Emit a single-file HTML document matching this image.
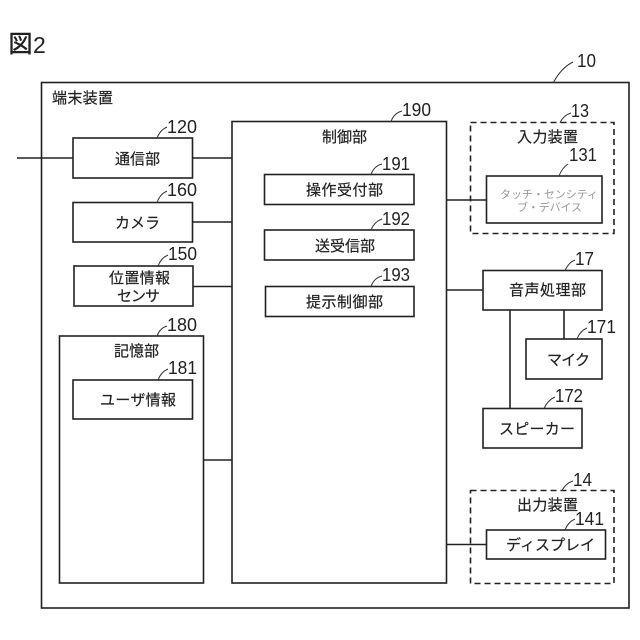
<!DOCTYPE html>
<html lang="ja">
<head>
<meta charset="utf-8">
<style>
html,body{margin:0;padding:0;background:#fff;width:640px;height:640px;overflow:hidden}
svg{display:block}
text{font-family:"Liberation Sans","Noto Sans CJK JP",sans-serif;fill:#222}
.j{font-size:15px;font-family:"Noto Sans CJK JP","Liberation Sans",sans-serif;stroke:#222;stroke-width:.2}
.n{font-size:18px}
.b{fill:none;stroke:#222;stroke-width:1.6}
.d{fill:none;stroke:#222;stroke-width:1.6;stroke-dasharray:6 4}
.l{fill:none;stroke:#222;stroke-width:1.6}
.c{fill:none;stroke:#333;stroke-width:1}
</style>
</head>
<body>
<svg width="640" height="640" viewBox="0 0 640 640" xmlns="http://www.w3.org/2000/svg">
<rect width="640" height="640" fill="#fff"/>
<!-- title -->
<text x="8.5" y="52" class="j" style="font-size:24px;stroke-width:.5">図</text>
<text x="33" y="53" style="font-size:23px">2</text>

<!-- boxes -->
<rect class="b" x="41.5" y="82.5" width="587.5" height="525.5"/>
<rect class="b" x="73" y="138" width="119.5" height="40"/>
<rect class="b" x="73" y="202.5" width="119.5" height="39.5"/>
<rect class="b" x="74" y="266" width="119" height="40"/>
<rect class="b" x="232" y="121.5" width="214.5" height="461.5"/>
<rect class="b" x="59.5" y="336" width="144" height="247"/>
<rect class="b" x="73" y="380" width="119.5" height="39"/>
<rect class="b" x="264.5" y="174.5" width="149.5" height="30"/>
<rect class="b" x="264.5" y="230" width="149.5" height="30"/>
<rect class="b" x="265.5" y="286.5" width="148.5" height="30"/>
<rect class="d" x="470.5" y="122.5" width="143.5" height="111"/>
<rect class="b" x="486.5" y="176" width="115.5" height="47"/>
<rect class="b" x="483" y="270.5" width="119" height="39.5"/>
<rect class="b" x="526" y="339" width="76" height="40"/>
<rect class="b" x="483" y="408.5" width="99" height="39.5"/>
<rect class="d" x="470.5" y="490.5" width="143.5" height="93"/>
<rect class="b" x="486.5" y="530" width="119" height="29"/>

<!-- connectors -->
<path class="l" d="M17 158H73M192.5 158H232M192.5 222H232M193 286.5H232M203.5 460H232M446.5 200H486.5M446.5 290H483M510 310V408.5M564 310V339M446.5 544.5H486.5"/>

<!-- leaders -->
<path class="c" d="M157 138Q160 130 167 127M157 202.5Q160 194 167 191M158 266Q161 258 168 255M157 336Q160 328 167 326M158 380Q161 372 168 369M391 121.5Q394 113 402 111M371 174.5Q374 166 382 164M371 230Q374 222 382 219M371 286.5Q374 278 382 276M553.5 82.5Q561 68 573 62M560 122.5Q564 115 571 113M559 176Q562 168 568 164M565 270.5Q569 262 575 260M577 339Q580 331 587 328M544 408.5Q548 400 555 397M562 490.5Q566 483 573 481M565 530Q568 522 575 519"/>

<!-- numbers -->
<text class="n" x="167" y="133" textLength="30" lengthAdjust="spacingAndGlyphs">120</text>
<text class="n" x="167" y="196" textLength="30" lengthAdjust="spacingAndGlyphs">160</text>
<text class="n" x="168" y="260" textLength="29" lengthAdjust="spacingAndGlyphs">150</text>
<text class="n" x="167" y="331" textLength="30" lengthAdjust="spacingAndGlyphs">180</text>
<text class="n" x="168" y="374" textLength="29" lengthAdjust="spacingAndGlyphs">181</text>
<text class="n" x="402" y="116" textLength="29" lengthAdjust="spacingAndGlyphs">190</text>
<text class="n" x="382" y="170" textLength="28" lengthAdjust="spacingAndGlyphs">191</text>
<text class="n" x="382" y="225" textLength="28" lengthAdjust="spacingAndGlyphs">192</text>
<text class="n" x="382" y="281" textLength="28" lengthAdjust="spacingAndGlyphs">193</text>
<text class="n" x="577" y="67" textLength="19" lengthAdjust="spacingAndGlyphs">10</text>
<text class="n" x="571" y="117" textLength="18" lengthAdjust="spacingAndGlyphs">13</text>
<text class="n" x="569" y="161" textLength="28" lengthAdjust="spacingAndGlyphs">131</text>
<text class="n" x="575" y="265" textLength="19" lengthAdjust="spacingAndGlyphs">17</text>
<text class="n" x="587" y="333" textLength="29" lengthAdjust="spacingAndGlyphs">171</text>
<text class="n" x="555" y="402" textLength="28" lengthAdjust="spacingAndGlyphs">172</text>
<text class="n" x="573" y="486" textLength="19" lengthAdjust="spacingAndGlyphs">14</text>
<text class="n" x="575" y="525" textLength="29" lengthAdjust="spacingAndGlyphs">141</text>

<!-- labels -->
<text class="j" x="52" y="103" textLength="61">端末装置</text>
<text class="j" x="115" y="164" textLength="45">通信部</text>
<text class="j" x="115" y="228" textLength="45">カメラ</text>
<text class="j" x="109" y="283" textLength="61">位置情報</text>
<text class="j" x="117" y="301" textLength="43">センサ</text>
<text class="j" x="322" y="142" textLength="45">制御部</text>
<text class="j" x="306" y="195" textLength="77">操作受付部</text>
<text class="j" x="315" y="251" textLength="60">送受信部</text>
<text class="j" x="306" y="307" textLength="77">提示制御部</text>
<text class="j" x="114" y="356" textLength="45">記憶部</text>
<text class="j" x="100" y="405" textLength="76">ユーザ情報</text>
<text class="j" x="517" y="142" textLength="61">入力装置</text>
<text class="j" x="500" y="198" textLength="98" style="font-size:11px;fill:#999;stroke:none">タッチ・センシティ</text>
<text class="j" x="517" y="211" textLength="65" style="font-size:11px;fill:#999;stroke:none">ブ・デバイス</text>
<text class="j" x="509" y="295" textLength="77">音声処理部</text>
<text class="j" x="547" y="365" textLength="43">マイク</text>
<text class="j" x="499" y="434" textLength="76">スピーカー</text>
<text class="j" x="517" y="510" textLength="61">出力装置</text>
<text class="j" x="506" y="550" textLength="89">ディスプレイ</text>
</svg>
</body>
</html>
